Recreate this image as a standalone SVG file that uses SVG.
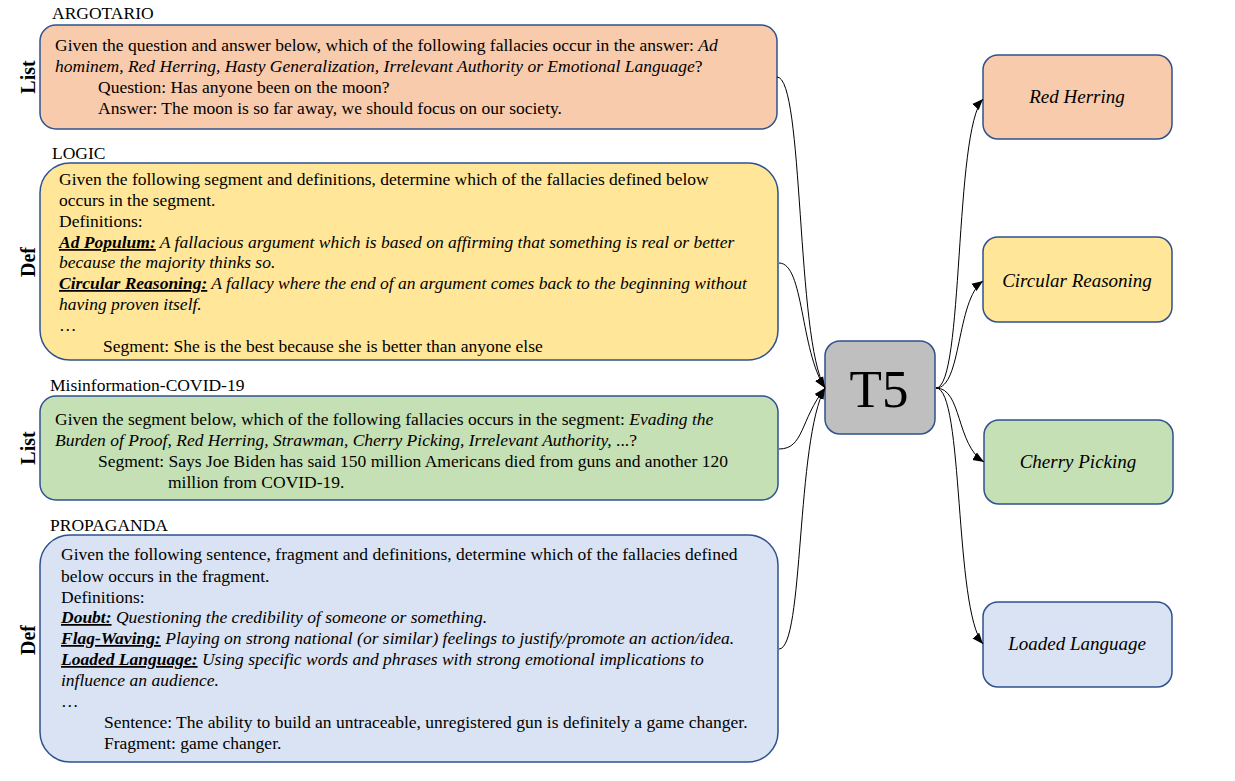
<svg xmlns="http://www.w3.org/2000/svg" width="1235" height="781" viewBox="0 0 1235 781">
<style>
.box{stroke:#2F528F;stroke-width:1.5}
.t{font-family:"Liberation Serif","Times New Roman",serif;font-size:17.5px;fill:#000}
.i{font-style:italic}
.bu{font-weight:bold;font-style:italic;text-decoration:underline}
.side{font-family:"Liberation Serif","Times New Roman",serif;font-size:20px;font-weight:bold;fill:#000}
.lab{font-family:"Liberation Serif","Times New Roman",serif;font-size:19px;font-style:italic;fill:#000}
.c{fill:none;stroke:#000;stroke-width:1}
</style>
<defs>
<marker id="ah" viewBox="0 0 10 10" refX="10" refY="5" markerWidth="11" markerHeight="11" markerUnits="userSpaceOnUse" orient="auto">
<path d="M0,1 L10,5 L0,9 z" fill="#000"/>
</marker>
</defs>

<g id="argotario">
<text class="t" x="52" y="19">ARGOTARIO</text>
<rect class="box" x="40" y="25" width="737" height="104" rx="16" fill="#F8CBAD"/>
<text class="side" transform="translate(35,77) rotate(-90)" text-anchor="middle">List</text>
<text class="t" x="55" y="51">Given the question and answer below, which of the following fallacies occur in the answer: <tspan class="i">Ad</tspan></text>
<text class="t" x="55" y="72"><tspan class="i">hominem, Red Herring, Hasty Generalization, Irrelevant Authority or Emotional Language</tspan>?</text>
<text class="t" x="98" y="93">Question: Has anyone been on the moon?</text>
<text class="t" x="98" y="114">Answer: The moon is so far away, we should focus on our society.</text>
</g>

<g id="logic">
<text class="t" x="52" y="159">LOGIC</text>
<rect class="box" x="40" y="163" width="738" height="197" rx="30" fill="#FFE699"/>
<text class="side" transform="translate(35,262) rotate(-90)" text-anchor="middle">Def</text>
<text class="t" x="59" y="185">Given the following segment and definitions, determine which of the fallacies defined below</text>
<text class="t" x="59" y="206">occurs in the segment.</text>
<text class="t" x="59" y="227">Definitions:</text>
<text class="t" x="59" y="248"><tspan class="bu">Ad Populum:</tspan><tspan class="i"> A fallacious argument which is based on affirming that something is real or better</tspan></text>
<text class="t" x="59" y="268"><tspan class="i">because the majority thinks so.</tspan></text>
<text class="t" x="59" y="289"><tspan class="bu">Circular Reasoning:</tspan><tspan class="i"> A fallacy where the end of an argument comes back to the beginning without</tspan></text>
<text class="t" x="59" y="310"><tspan class="i">having proven itself.</tspan></text>
<text class="t" x="59" y="331">…</text>
<text class="t" x="103" y="352">Segment: She is the best because she is better than anyone else</text>
</g>

<g id="covid">
<text class="t" x="50" y="391">Misinformation-COVID-19</text>
<rect class="box" x="40" y="396" width="738" height="104" rx="16" fill="#C5E0B4"/>
<text class="side" transform="translate(35,448) rotate(-90)" text-anchor="middle">List</text>
<text class="t" x="55" y="425">Given the segment below, which of the following fallacies occurs in the segment: <tspan class="i">Evading the</tspan></text>
<text class="t" x="55" y="446"><tspan class="i">Burden of Proof, Red Herring, Strawman, Cherry Picking, Irrelevant Authority, </tspan> ...?</text>
<text class="t" x="98" y="467">Segment: Says Joe Biden has said 150 million Americans died from guns and another 120</text>
<text class="t" x="168" y="488">million from COVID-19.</text>
</g>

<g id="propaganda">
<text class="t" x="50" y="531">PROPAGANDA</text>
<rect class="box" x="40" y="535" width="738" height="227" rx="30" fill="#DAE3F3"/>
<text class="side" transform="translate(35,640) rotate(-90)" text-anchor="middle">Def</text>
<text class="t" x="61" y="560">Given the following sentence, fragment and definitions, determine which of the fallacies defined</text>
<text class="t" x="61" y="582">below occurs in the fragment.</text>
<text class="t" x="61" y="603">Definitions:</text>
<text class="t" x="61" y="623"><tspan class="bu">Doubt:</tspan><tspan class="i"> Questioning the credibility of someone or something.</tspan></text>
<text class="t" x="61" y="644"><tspan class="bu">Flag-Waving:</tspan><tspan class="i"> Playing on strong national (or similar) feelings to justify/promote an action/idea.</tspan></text>
<text class="t" x="61" y="665"><tspan class="bu">Loaded Language:</tspan><tspan class="i"> Using specific words and phrases with strong emotional implications to</tspan></text>
<text class="t" x="61" y="686"><tspan class="i">influence an audience.</tspan></text>
<text class="t" x="61" y="707">…</text>
<text class="t" x="104" y="728">Sentence: The ability to build an untraceable, unregistered gun is definitely a game changer.</text>
<text class="t" x="104" y="749">Fragment: game changer.</text>
</g>

<g id="t5">
<rect class="box" x="825" y="341" width="110" height="93" rx="15" fill="#BFBFBF"/>
<text x="879" y="407" text-anchor="middle" font-family="Liberation Serif, Times New Roman, serif" font-size="53">T5</text>
</g>

<g id="red-herring">
<rect class="box" x="983" y="55" width="189" height="84" rx="15" fill="#F8CBAD"/>
<text class="lab" x="1077" y="103" text-anchor="middle">Red Herring</text>
</g>
<g id="circular-reasoning">
<rect class="box" x="983" y="237" width="189" height="85" rx="15" fill="#FFE699"/>
<text class="lab" x="1077" y="287" text-anchor="middle">Circular Reasoning</text>
</g>
<g id="cherry-picking">
<rect class="box" x="984" y="420" width="189" height="84" rx="15" fill="#C5E0B4"/>
<text class="lab" x="1078" y="468" text-anchor="middle">Cherry Picking</text>
</g>
<g id="loaded-language">
<rect class="box" x="983" y="602" width="189" height="85" rx="15" fill="#DAE3F3"/>
<text class="lab" x="1077" y="650" text-anchor="middle">Loaded Language</text>
</g>

<g id="connectors">
<path class="c" d="M777,77 C804,77 796,340 825,388" marker-end="url(#ah)"/>
<path class="c" d="M779,263 C804,263 800,350 825,388" marker-end="url(#ah)"/>
<path class="c" d="M779,449 C804,449 800,420 825,388" marker-end="url(#ah)"/>
<path class="c" d="M779,649 C804,649 796,440 825,388" marker-end="url(#ah)"/>
<path class="c" d="M936,388 C964,388 954,130 983,99" marker-end="url(#ah)"/>
<path class="c" d="M936,388 C962,388 956,300 983,281" marker-end="url(#ah)"/>
<path class="c" d="M936,388 C962,388 956,445 984,462" marker-end="url(#ah)"/>
<path class="c" d="M936,388 C964,388 954,610 983,644" marker-end="url(#ah)"/>
</g>
</svg>
